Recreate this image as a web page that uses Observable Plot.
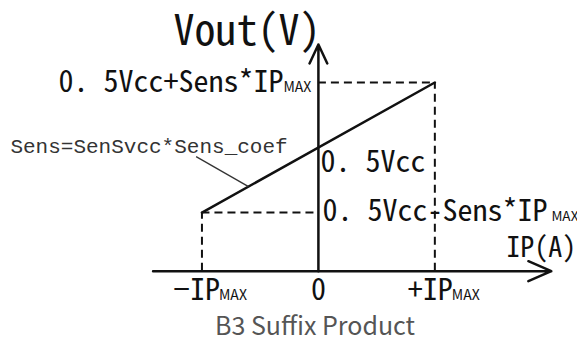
<!DOCTYPE html>
<html>
<head>
<meta charset="utf-8">
<script src="https://cdn.jsdelivr.net/npm/d3@7"></script>
<script src="https://cdn.jsdelivr.net/npm/@observablehq/plot@0.6"></script>
<style>
  html, body { margin: 0; padding: 0; background: #fff; }
  figure { margin: 0 !important; padding: 0; }
  figcaption {
    margin: 0; padding: 0 0 0 53px; text-align: center;
    font-family: "Noto Sans CJK SC", "Noto Sans", sans-serif;
    font-size: 25px; line-height: 26px; color: #555;
  }
</style>
</head>
<body>
<div id="chart"></div>
<script>
// Transfer characteristic (IP in units of IPmax, Vout as offset from 0.5Vcc in units of Sens*IPmax)
const ipEnds = [-1, 1];
const voutEnds = [-1, 1];

// Tick labels on the IP axis
const xTickValues = [-1, 0, 1];
const xTickMain = ["−IP", "0", "+IP"];
const xTickSub = ["MAX", "", "MAX"];

// Level labels on the Vout axis
const yLevelValues = [1, 0, -1];
const yLevelMain = ["0. 5Vcc+Sens*IP", "0. 5Vcc", "0. 5Vcc-Sens*IP"];
const yLevelSub = ["MAX", "", "MAX"];

// Axis extents (data units)
const xAxisExtent = [-1.42, 2.0];
const yAxisExtent = [-1.9, 1.585];

const xTitle = "IP(A)";
const yTitle = "Vout(V)";
const noteText = "Sens=SenSvcc*Sens_coef";
const captionText = "B3 Suffix Product";

const MONO = "'Noto Sans Mono CJK JP', 'Noto Sans Mono CJK SC', 'DejaVu Sans Mono', monospace";
const SUB = "'Noto Sans CJK SC', 'Noto Sans', sans-serif";
const dash = {stroke: "#111", strokeWidth: 2, strokeDasharray: "8,5"};
const lbl = {fontFamily: MONO, fontSize: 30, fill: "#111", lineAnchor: "bottom"};
const sub = {fontFamily: SUB, fontSize: 14, fill: "#111", lineAnchor: "bottom", textAnchor: "start"};

const line = ipEnds.map((x, i) => ({x, y: voutEnds[i]}));
const xAxisY = yAxisExtent[0];

function one(v) { return [v]; }

const chart = Plot.plot({
  width: 577,
  height: 311,
  margin: 0,
  x: {domain: [-2.73, 2.225], axis: null},
  y: {domain: [-2.52, 2.26], axis: null},
  caption: captionText,
  style: {background: "#fff", overflow: "visible"},
  marks: [
    // dashed guide lines
    Plot.ruleY(one(yLevelValues[0]), {x1: 0, x2: ipEnds[1], ...dash}),
    Plot.ruleY(one(yLevelValues[2]), {x1: ipEnds[0], x2: 0, ...dash}),
    Plot.ruleX(one(ipEnds[1]), {y1: xAxisY, y2: voutEnds[1], ...dash}),
    Plot.ruleX(one(ipEnds[0]), {y1: xAxisY, y2: voutEnds[0], ...dash}),
    // axes with arrowheads
    Plot.arrow(one(0), {x1: xAxisExtent[0], x2: xAxisExtent[1], y1: xAxisY, y2: xAxisY,
      stroke: "#111", strokeWidth: 2.5, headAngle: 47, headLength: 15}),
    Plot.arrow(one(0), {x1: 0, x2: 0, y1: xAxisY, y2: yAxisExtent[1],
      stroke: "#111", strokeWidth: 2.5, headAngle: 50, headLength: 12.6}),
    // transfer line
    Plot.line(line, {x: "x", y: "y", stroke: "#111", strokeWidth: 2.5}),
    // annotation leader
    Plot.link(one(0), {x1: -1.05, y1: -0.14, x2: -0.6, y2: -0.6, stroke: "#333", strokeWidth: 1.3}),
    Plot.text(one(noteText), {x: -2.645, y: -0.077, text: d => d, textAnchor: "start", lineAnchor: "bottom",
      fontFamily: "'Liberation Mono', 'DejaVu Sans Mono', monospace", fontSize: 21, fill: "#333"}),
    // axis titles
    Plot.text(one(yTitle), {x: 0, y: yAxisExtent[1], text: d => d, ...lbl, fontSize: 42, textAnchor: "end", dx: 2, dy: 1}),
    Plot.text(one(xTitle), {x: xAxisExtent[1], y: xAxisY, text: d => d, ...lbl, fontSize: 28, textAnchor: "start", dx: -45, dy: -14}),
    // Vout level labels
    Plot.text(one(yLevelMain[0]), {x: 0, y: yLevelValues[0], text: d => d, ...lbl, textAnchor: "end", dx: -35, dy: 10}),
    Plot.text(one(yLevelSub[0]), {x: 0, y: yLevelValues[0], text: d => d, ...sub, dx: -35, dy: 10}),
    Plot.text(one(yLevelMain[1]), {x: 0, y: yLevelValues[1], text: d => d, ...lbl, textAnchor: "start", dx: 2, dy: 24}),
    Plot.text(one(yLevelMain[2]), {x: 0, y: yLevelValues[2], text: d => d, ...lbl, textAnchor: "start", dx: 4, dy: 8}),
    Plot.text(one(yLevelSub[2]), {x: 0, y: yLevelValues[2], text: d => d, ...sub, fontSize: 13.5, dx: 233, dy: 8}),
    // IP tick labels
    Plot.text(one(xTickMain[0]), {x: xTickValues[0], y: xAxisY, text: d => d, ...lbl, textAnchor: "end", dx: 18, dy: 29}),
    Plot.text(one(xTickSub[0]), {x: xTickValues[0], y: xAxisY, text: d => d, ...sub, dx: 17, dy: 29}),
    Plot.text(one(xTickMain[1]), {x: xTickValues[1], y: xAxisY, text: d => d, ...lbl, textAnchor: "middle", dy: 29}),
    Plot.text(one(xTickMain[2]), {x: xTickValues[2], y: xAxisY, text: d => d, ...lbl, textAnchor: "end", dx: 18, dy: 29}),
    Plot.text(one(xTickSub[2]), {x: xTickValues[2], y: xAxisY, text: d => d, ...sub, dx: 17, dy: 29})
  ]
});
document.getElementById("chart").append(chart);
</script>
</body>
</html>
